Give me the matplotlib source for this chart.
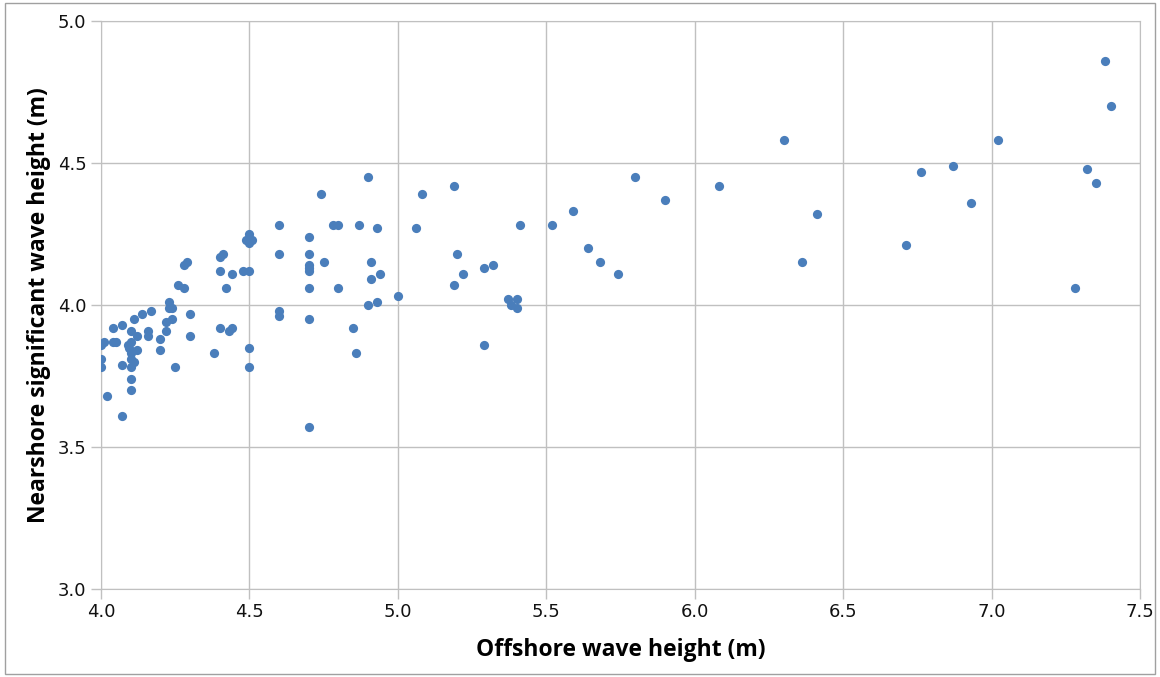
# Nearshore vs offshore significant wave height scatter

import matplotlib.pyplot as plt
from matplotlib.patches import Rectangle

offshore = [4.00, 4.00, 4.00, 4.01, 4.02, 4.04, 4.04, 4.05, 4.07, 4.07, 4.07, 4.09,
            4.10, 4.095, 4.10, 4.10, 4.10, 4.11, 4.10, 4.10, 4.10, 4.11, 4.12, 4.12,
            4.14, 4.16, 4.16, 4.17, 4.20, 4.20, 4.22, 4.22, 4.23, 4.23, 4.24, 4.24,
            4.25, 4.26, 4.28, 4.28, 4.29, 4.30, 4.30, 4.38, 4.40, 4.41, 4.40, 4.40,
            4.42, 4.43, 4.44, 4.44, 4.48, 4.49, 4.50, 4.50, 4.51, 4.50, 4.50, 4.50,
            4.60, 4.60, 4.60, 4.60, 4.70, 4.70, 4.70, 4.70, 4.70, 4.70, 4.70, 4.70,
            4.74, 4.75, 4.78, 4.80, 4.80, 4.85, 4.86, 4.87, 4.90, 4.90, 4.91, 4.91,
            4.93, 4.93, 4.94, 5.00, 5.06, 5.08, 5.19, 5.19, 5.20, 5.22, 5.29, 5.29,
            5.32, 5.37, 5.38, 5.40, 5.40, 5.41, 5.52, 5.59, 5.64, 5.68, 5.74, 5.80,
            5.90, 6.08, 6.30, 6.36, 6.41, 6.71, 6.76, 6.87, 6.93, 7.02, 7.28, 7.32,
            7.35, 7.38, 7.40]
nearshore = [3.86, 3.81, 3.78, 3.87, 3.68, 3.92, 3.87, 3.87, 3.93, 3.79, 3.61, 3.86,
             3.87, 3.85, 3.91, 3.83, 3.81, 3.80, 3.78, 3.74, 3.70, 3.95, 3.89, 3.84,
             3.97, 3.91, 3.89, 3.98, 3.88, 3.84, 3.94, 3.91, 4.01, 3.99, 3.99, 3.95,
             3.78, 4.07, 4.06, 4.14, 4.15, 3.97, 3.89, 3.83, 4.17, 4.18, 4.12, 3.92,
             4.06, 3.91, 4.11, 3.92, 4.12, 4.23, 4.25, 4.22, 4.23, 4.12, 3.85, 3.78,
             4.28, 4.18, 3.98, 3.96, 4.24, 4.18, 4.14, 4.13, 4.12, 4.06, 3.95, 3.57,
             4.39, 4.15, 4.28, 4.28, 4.06, 3.92, 3.83, 4.28, 4.45, 4.00, 4.15, 4.09,
             4.27, 4.01, 4.11, 4.03, 4.27, 4.39, 4.42, 4.07, 4.18, 4.11, 4.13, 3.86,
             4.14, 4.02, 4.00, 4.02, 3.99, 4.28, 4.28, 4.33, 4.20, 4.15, 4.11, 4.45,
             4.37, 4.42, 4.58, 4.15, 4.32, 4.21, 4.47, 4.49, 4.36, 4.58, 4.06, 4.48,
             4.43, 4.86, 4.70]

x_ticks = [4.0, 4.5, 5.0, 5.5, 6.0, 6.5, 7.0, 7.5]
y_ticks = [3.0, 3.5, 4.0, 4.5, 5.0]

grid_col = '#c0c0c0'

fig = plt.figure(figsize=(11.6, 6.77), dpi=100)
ax = fig.add_axes([0.087, 0.130, 0.896, 0.839])

ax.scatter(offshore, nearshore, s=44, color='#4a7ebb', zorder=3, linewidths=0)

ax.set_xlim(4.0, 7.5)
ax.set_ylim(3.0, 5.0)
ax.set_xticks(x_ticks)
ax.set_yticks(y_ticks)
ax.set_xticklabels([f'{t:.1f}' for t in x_ticks])
ax.set_yticklabels([f'{t:.1f}' for t in y_ticks])
ax.grid(True, color=grid_col, lw=1)
ax.set_axisbelow(True)
for s in ax.spines.values():
    s.set_color(grid_col)
ax.tick_params(colors=grid_col, labelcolor='#111111', labelsize=13, length=7, width=1)
ax.tick_params(axis='x', pad=3)

ax.set_xlabel('Offshore wave height (m)', fontsize=16.5, fontweight='bold',
              family='Open Sans', labelpad=12)
ax.set_ylabel('Nearshore significant wave height (m)', fontsize=16.5, fontweight='bold',
              family='Open Sans', labelpad=5)

# outer chart border
fig.patches.append(Rectangle((0.004, 0.004), 0.992, 0.991, transform=fig.transFigure,
                             fill=False, edgecolor='#a0a0a0', lw=1))

plt.savefig('out.png', dpi=100)
